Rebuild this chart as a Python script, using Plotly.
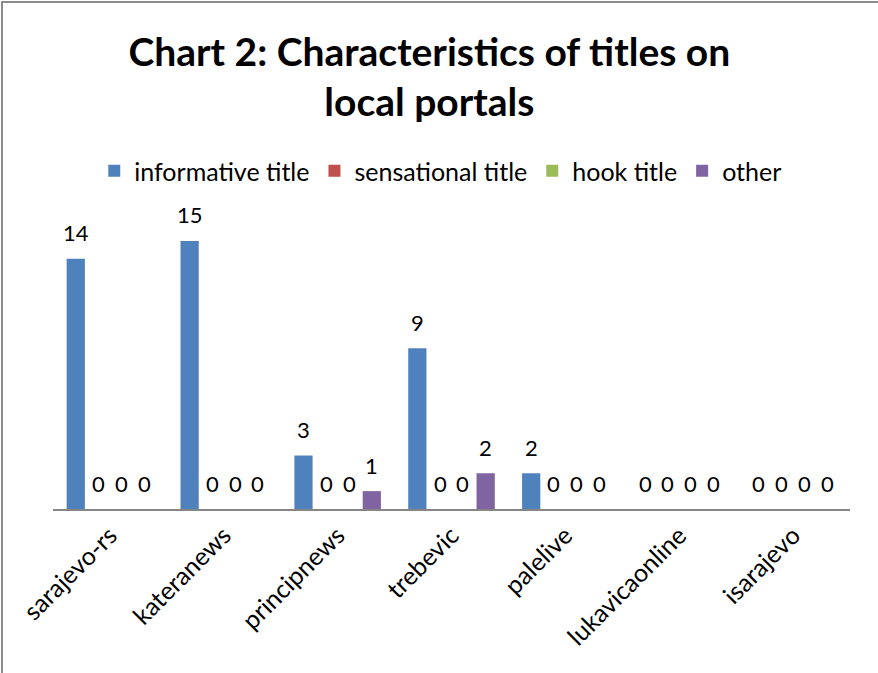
import plotly.graph_objects as go

categories = ["sarajevo-rs", "kateranews", "principnews", "trebevic", "palelive", "lukavicaonline", "isarajevo"]
informative = [14, 15, 3, 9, 2, 0, 0]
sensational = [0, 0, 0, 0, 0, 0, 0]
hook = [0, 0, 0, 0, 0, 0, 0]
other = [0, 0, 1, 2, 0, 0, 0]

series = [
    ("informative title", informative, "#4F81BD"),
    ("sensational title", sensational, "#C0504D"),
    ("hook title", hook, "#9BBB59"),
    ("other", other, "#8064A2"),
]

FONT = "Lato"
W, H = 878, 673
ML, MR, MT, MB = 53, 28, 223, 164
BARGAP = 0.2

fig = go.Figure()
for name, vals, color in series:
    fig.add_trace(go.Bar(
        name=name, x=categories, y=vals,
        marker=dict(color=color, line=dict(width=0)),
        cliponaxis=False, hoverinfo="skip",
    ))

# data labels placed above each bar of each group
plot_w = W - ML - MR
slot = plot_w / len(categories) * (1 - BARGAP) / len(series)
annotations = []
for i, (name, vals, color) in enumerate(series):
    for cat, v in zip(categories, vals):
        annotations.append(dict(
            x=cat, y=v, xref="x", yref="y", text=str(v), showarrow=False,
            xshift=(i - (len(series) - 1) / 2) * slot, yshift=26,
            yanchor="middle", xanchor="center",
            font=dict(family=FONT, size=22, color="black"),
        ))

fig.update_layout(
    width=W, height=H,
    paper_bgcolor="white", plot_bgcolor="white",
    margin=dict(l=ML, r=MR, t=MT, b=MB, autoexpand=False),
    barmode="group", bargap=BARGAP, bargroupgap=0.2,
    font=dict(family=FONT, size=20, color="black"),
    title=dict(
        text="<b>Chart 2: Characteristics of titles on<br>local portals</b>",
        x=0.489, xanchor="center", xref="container",
        y=0.9025, yanchor="top", yref="container",
        font=dict(family=FONT, size=39, color="black"),
    ),
    legend=dict(
        orientation="h", x=0.502, xanchor="center", xref="container",
        y=1 - 171 / H, yanchor="middle", yref="container",
        font=dict(family=FONT, size=25, color="black"),
        itemclick=False, tracegroupgap=0,
    ),
    xaxis=dict(
        showline=True, linecolor="#868686", linewidth=2,
        ticks="", tickangle=-45, showgrid=False, automargin=False,
        tickfont=dict(family=FONT, size=25, color="black"),
    ),
    yaxis=dict(range=[0, 16], visible=False, showgrid=False, zeroline=False),
    annotations=annotations,
    shapes=[dict(
        type="rect", xref="paper", yref="paper",
        x0=(2 - ML) / plot_w, x1=1.2, y0=-1.0, y1=(H - MB - 2) / (H - MT - MB),
        line=dict(color="#8c8c8c", width=2), fillcolor="rgba(0,0,0,0)", layer="below",
    )],
)

fig.write_html("out.html", config={"displayModeBar": False},
               post_script="document.body.style.margin='0';")
